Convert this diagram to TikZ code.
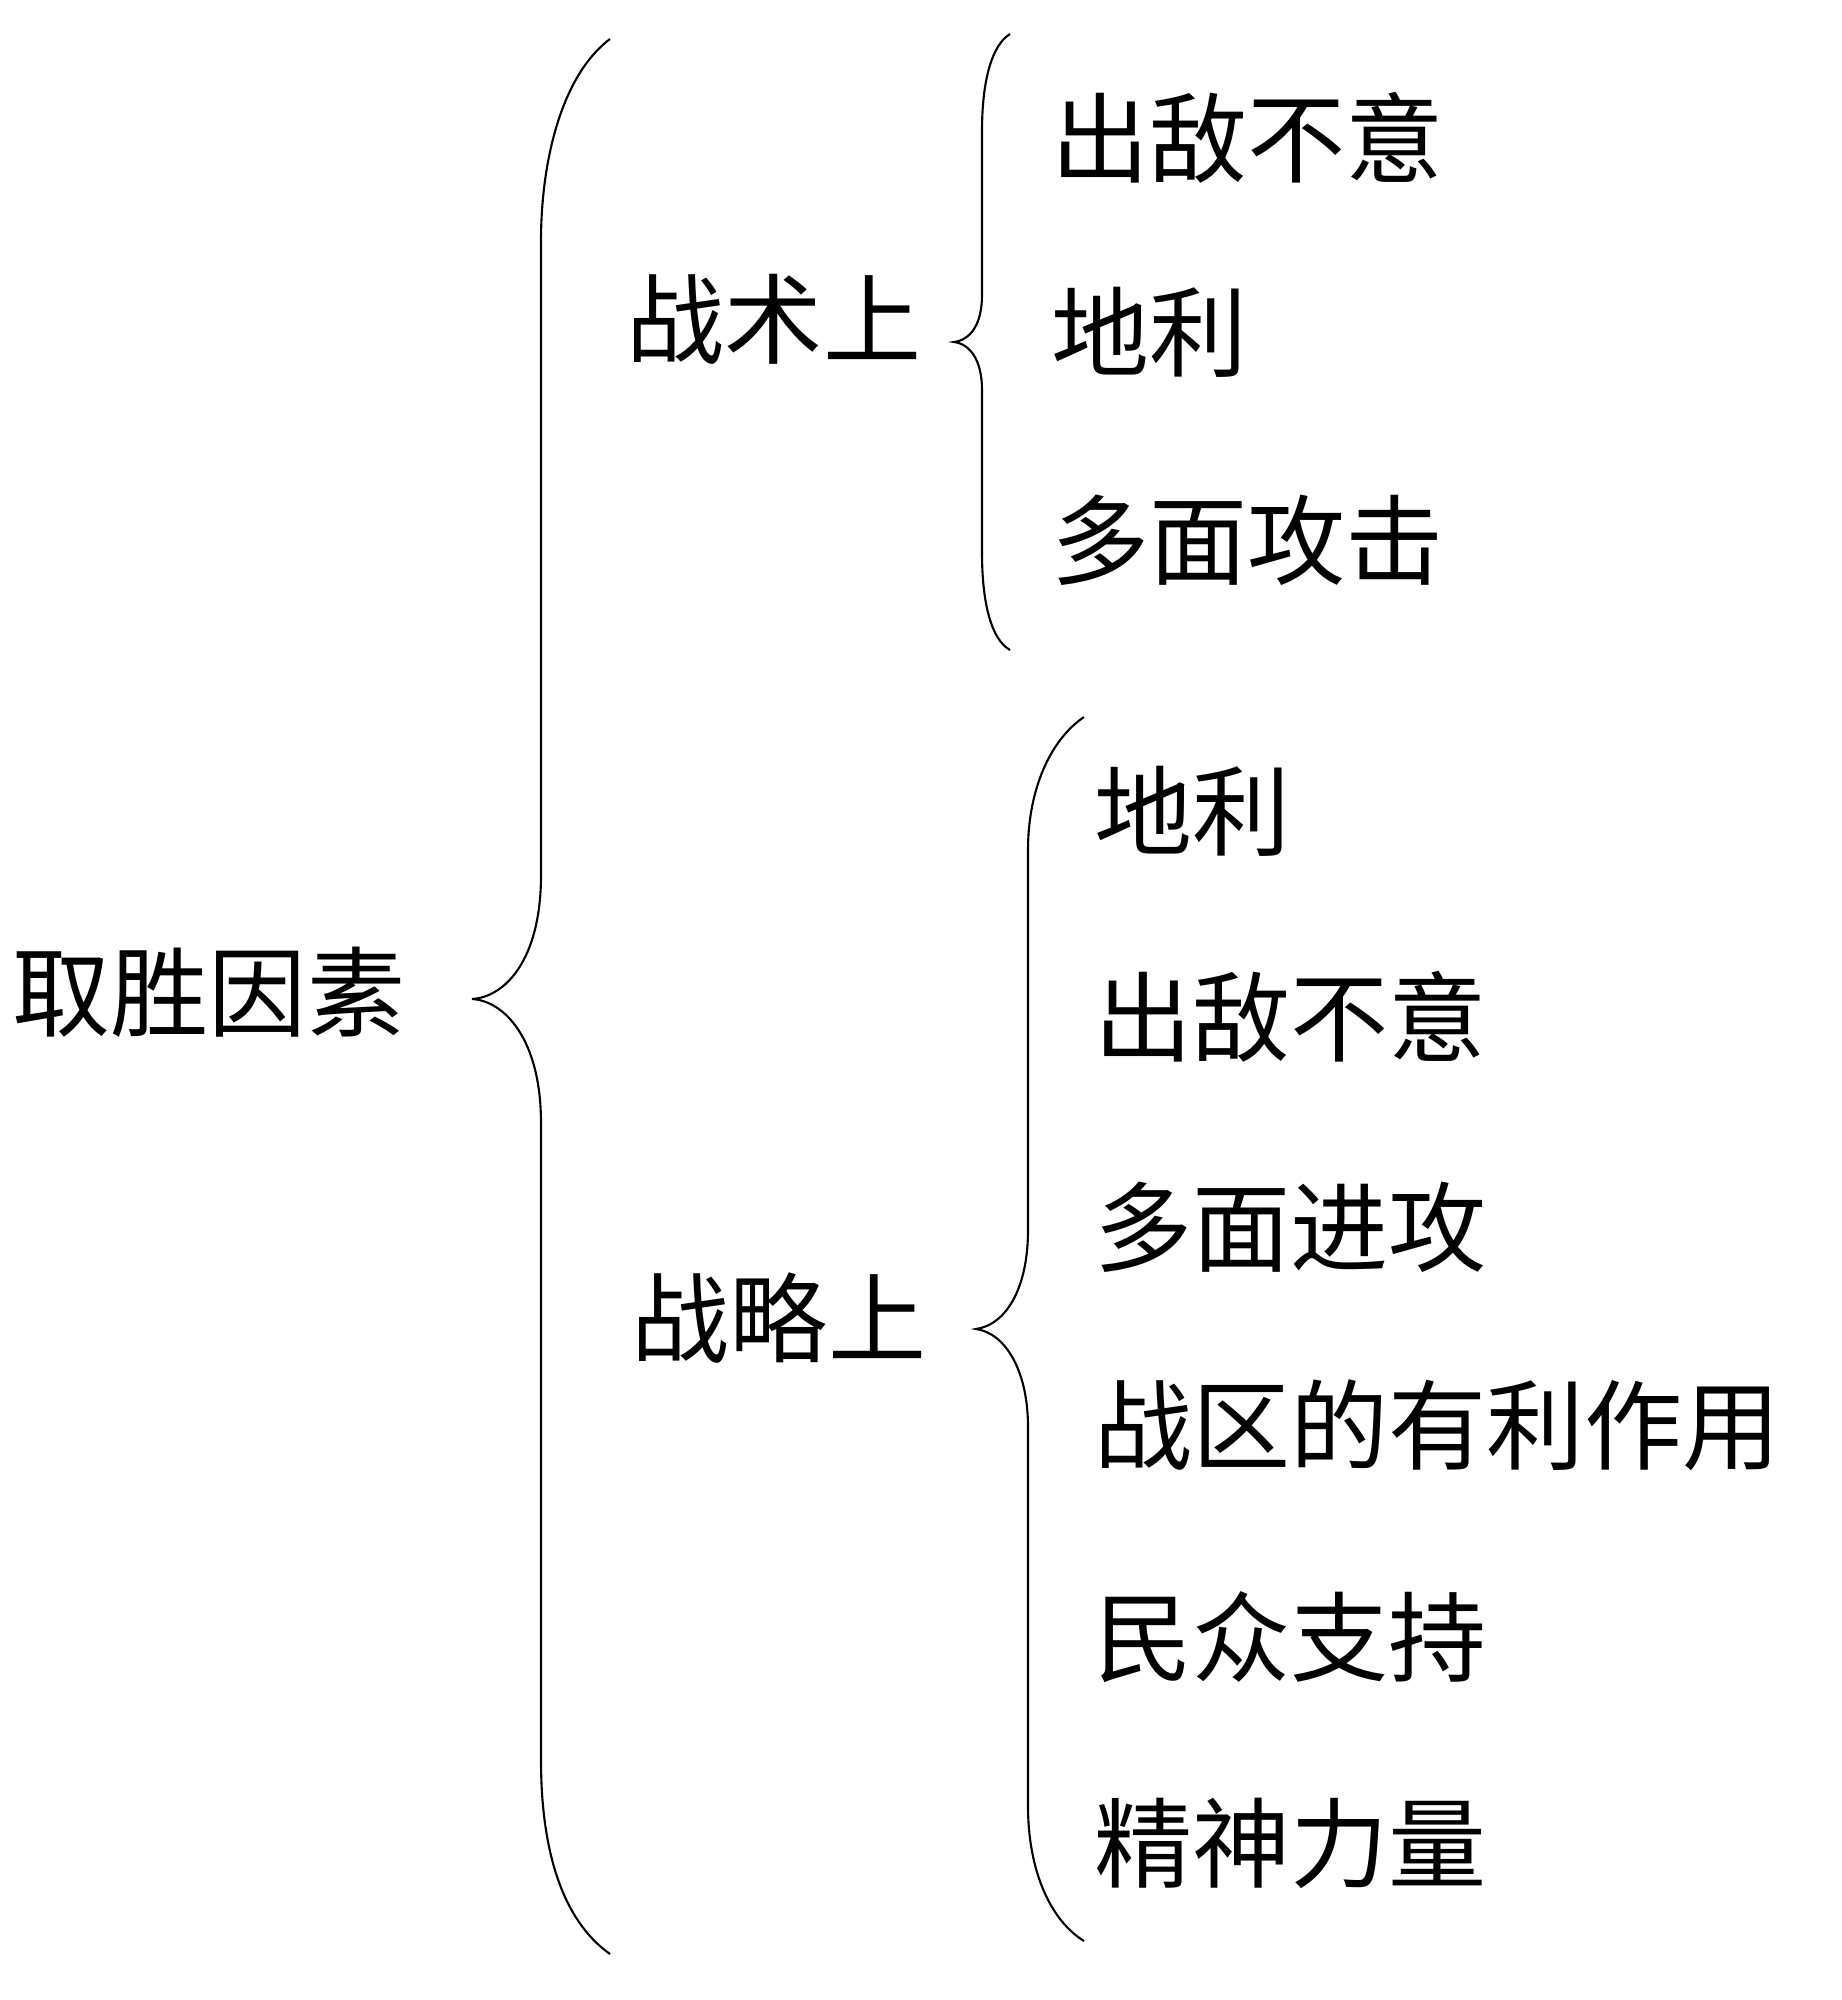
\documentclass[tikz,border=0pt]{standalone}
\usepackage{fontspec}
\setmainfont{Noto Sans CJK SC}
\begin{document}
\begin{tikzpicture}[every node/.style={inner sep=0, font=\fontsize{27.9}{30}\selectfont}, line width=0.6pt]
    \useasboundingbox (0,0) rectangle (18.42,-20);
    % root and the two branches
    \draw(2.09,-9.92) node (win){取胜因素};
    \draw(7.74,-3.19) node (tac){战术上};
    \draw(7.79,-13.18) node (str){战略上};
    
    % tactics
    \draw(10.50,-1.38) node [anchor=west](t1){出敌不意};
    \draw(10.50,-3.32) node [anchor=west](t2){地利};
    \draw(10.50,-5.40) node [anchor=west](t3){多面攻击};
    
    % strategy
    \draw(10.93,-8.11) node [anchor=west](s1){地利};
    \draw(10.93,-10.17) node [anchor=west](s2){出敌不意};
    \draw(10.93,-12.27) node [anchor=west](s3){多面进攻};
    \draw(10.93,-14.25) node [anchor=west](s4){战区的有利作用};
    \draw(10.93,-16.37) node [anchor=west](s5){民众支持};
    \draw(10.93,-18.43) node [anchor=west](s6){精神力量};
    
    % braces
    \draw (6.10,-0.39) .. controls (5.62,-0.75) and (5.41,-1.6) .. (5.41,-2.41)
        -- (5.41,-8.75) .. controls (5.41,-9.6) and (5.05,-9.97) .. (4.72,-9.99)
        .. controls (5.05,-10.01) and (5.41,-10.4) .. (5.41,-11.23)
        -- (5.41,-17.6) .. controls (5.41,-18.5) and (5.62,-19.2) .. (6.10,-19.54);
    \draw (10.10,-0.34) .. controls (9.92,-0.45) and (9.82,-0.8) .. (9.82,-1.31)
        -- (9.82,-2.95) .. controls (9.82,-3.25) and (9.7,-3.4) .. (9.54,-3.42)
        .. controls (9.7,-3.44) and (9.82,-3.6) .. (9.82,-3.9)
        -- (9.82,-5.53) .. controls (9.82,-6.05) and (9.92,-6.4) .. (10.10,-6.5);
    \draw (10.84,-7.17) .. controls (10.5,-7.4) and (10.28,-7.9) .. (10.28,-8.5)
        -- (10.28,-12.3) .. controls (10.28,-12.9) and (10.05,-13.25) .. (9.76,-13.29)
        .. controls (10.05,-13.33) and (10.28,-13.7) .. (10.28,-14.27)
        -- (10.28,-18.06) .. controls (10.28,-18.7) and (10.5,-19.2) .. (10.84,-19.41);
\end{tikzpicture}
\end{document}
